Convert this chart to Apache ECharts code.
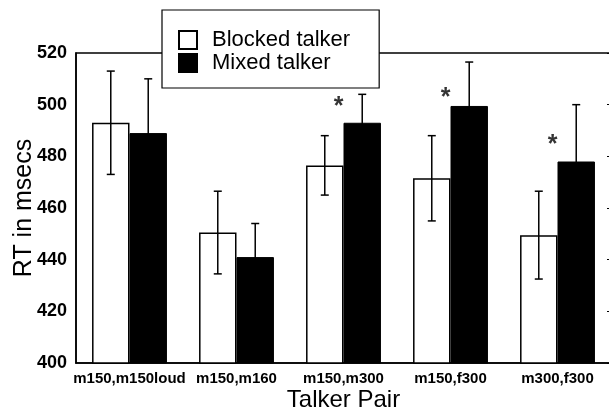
<!DOCTYPE html>
<html>
<head>
<meta charset="utf-8">
<script src="https://cdn.jsdelivr.net/npm/echarts@6/dist/echarts.min.js"></script>
<style>html,body{margin:0;padding:0;background:#fff;}#c{width:609px;height:411px;}</style>
</head>
<body>
<div id="c"></div>
<script>
var categories = ['m150,m150loud', 'm150,m160', 'm150,m300', 'm150,f300', 'm300,f300'];
var blocked = [493, 450.5, 476.5, 471.5, 449.5];
var blockedErr = [20, 16, 11.5, 16.5, 17];
var mixed = [489, 441, 493, 499.5, 478];
var mixedErr = [21, 13, 11, 17, 22];
var stars = [null, null, 501.5, 505, 486.5];
var yTicks = {min: 400, max: 520, interval: 20};

var FONT = '"Liberation Sans", Arial, Helvetica, sans-serif';

function errData(vals, errs) {
  return vals.map(function (v, i) { return [i, v, errs[i]]; });
}
function errRender(side) {
  return function (params, api) {
    var cat = api.value(0), v = api.value(1), e = api.value(2);
    var top = api.coord([cat, v + e]);
    var bot = api.coord([cat, v - e]);
    var band = api.size([1, 0])[0];
    var x = top[0] + side * band * 0.175;
    var cap = 4;
    var st = {stroke: '#000', lineWidth: 1.5};
    return {
      type: 'group',
      children: [
        {type: 'line', shape: {x1: x, y1: top[1], x2: x, y2: bot[1]}, style: st},
        {type: 'line', shape: {x1: x - cap, y1: top[1], x2: x + cap, y2: top[1]}, style: st},
        {type: 'line', shape: {x1: x - cap, y1: bot[1], x2: x + cap, y2: bot[1]}, style: st}
      ]
    };
  };
}

var chart = echarts.init(document.getElementById('c'), null, {renderer: 'canvas'});
chart.setOption({
  animation: false,
  backgroundColor: '#fff',
  textStyle: {fontFamily: FONT, color: '#000'},
  grid: {left: 76, right: -2, top: 53, bottom: 48, show: true, borderColor: '#000', borderWidth: 1.5,
    backgroundColor: 'transparent', containLabel: false, outerBoundsMode: 'none'},
  legend: {
    orient: 'vertical', left: 162, top: 10,
    backgroundColor: '#fff', borderColor: '#000', borderWidth: 1.2, borderRadius: 0,
    padding: [19, 29, 14, 16], itemGap: 1, itemWidth: 18, itemHeight: 18,
    icon: 'rect',
    textStyle: {fontSize: 22, color: '#000', fontFamily: FONT, padding: [0, 0, 0, 10]},
    data: ['Blocked talker', 'Mixed talker']
  },
  xAxis: {
    type: 'category', data: categories,
    name: 'Talker Pair', nameLocation: 'middle', nameGap: 25, nameMoveOverlap: false,
    nameTextStyle: {fontSize: 24, color: '#000', fontFamily: FONT},
    axisLine: {lineStyle: {color: '#000', width: 1.5}},
    axisTick: {show: false},
    axisLabel: {fontSize: 15, fontWeight: 'bold', color: '#000', margin: 8, fontFamily: FONT, interval: 0}
  },
  yAxis: [{
    type: 'value', min: yTicks.min, max: yTicks.max, interval: yTicks.interval,
    name: 'RT in msecs', nameLocation: 'middle', nameGap: 39, nameRotate: 90, nameMoveOverlap: false,
    nameTextStyle: {fontSize: 25, color: '#000', fontFamily: FONT},
    axisLine: {show: true, lineStyle: {color: '#000', width: 1.5}},
    axisTick: {show: false},
    splitLine: {show: false},
    axisLabel: {fontSize: 18, fontWeight: 'bold', color: '#000', margin: 9, fontFamily: FONT}
  }, {
    type: 'value', position: 'right', min: yTicks.min, max: yTicks.max, interval: yTicks.interval,
    axisLine: {show: false},
    axisTick: {show: true, inside: true, length: 4, lineStyle: {color: '#000', width: 1}},
    axisLabel: {show: false},
    splitLine: {show: false}
  }],
  series: [
    {
      name: 'Blocked talker', type: 'bar', data: blocked, barGap: '0%', barCategoryGap: '30%',
      itemStyle: {color: '#fff', borderColor: '#000', borderWidth: 1.5}
    },
    {
      name: 'Mixed talker', type: 'bar', data: mixed, barGap: '0%', barCategoryGap: '30%',
      itemStyle: {color: '#000', borderColor: '#000', borderWidth: 1}
    },
    {
      type: 'custom', renderItem: errRender(-1), data: errData(blocked, blockedErr),
      encode: {x: 0, y: 1}, z: 5, silent: true
    },
    {
      type: 'custom', renderItem: errRender(1), data: errData(mixed, mixedErr),
      encode: {x: 0, y: 1}, z: 5, silent: true
    },
    {
      type: 'scatter', data: stars, symbolSize: 0, z: 6, silent: true,
      label: {show: true, formatter: '*', position: 'inside', offset: [-5, 6],
        fontSize: 25, fontWeight: 'bold', color: '#000', fontFamily: FONT}
    }
  ]
});
</script>
</body>
</html>
